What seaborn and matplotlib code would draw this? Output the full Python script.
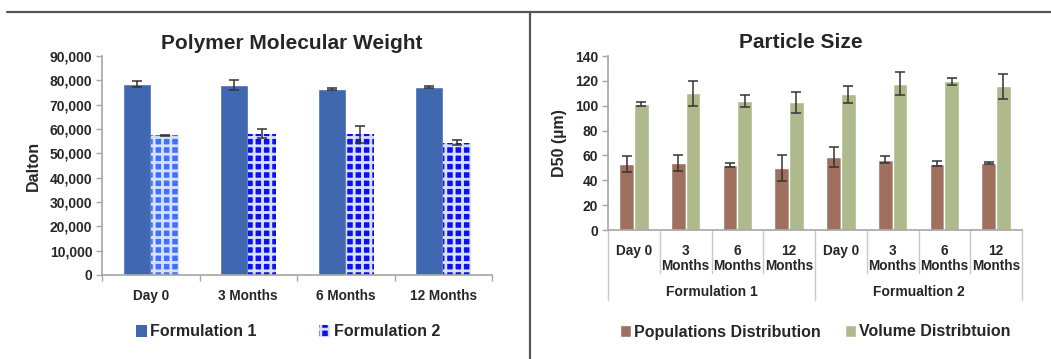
import matplotlib

matplotlib.use("Agg")
import matplotlib.pyplot as plt
import matplotlib.transforms as mtransforms
from matplotlib.lines import Line2D
from matplotlib.patches import Patch
from matplotlib.ticker import StrMethodFormatter
import pandas as pd
import seaborn as sns

# polymer molecular weight (left chart)
mw_times = ["Day 0", "3 Months", "6 Months", "12 Months"]
mw_series = ["Formulation 1", "Formulation 2"]
mw_f1 = [78500, 78200, 76300, 77300]
mw_f1_err = [1200, 2000, 400, 400]
mw_f2 = [57400, 58100, 57800, 54300]
mw_f2_err = [300, 1700, 3400, 1000]

# particle size (right chart)
ps_groups = ["Formulation 1", "Formualtion 2"]
ps_times = ["Day 0", "3\nMonths", "6\nMonths", "12\nMonths"]
ps_series = ["Populations Distribution", "Volume Distribtuion"]
pop_vals = [53, 54, 52, 50, 58.5, 56.5, 53.5, 54]
pop_err = [6.7, 6.4, 1.7, 10.3, 7.9, 2.7, 2.0, 0.5]
vol_vals = [101.4, 110, 103.5, 102.7, 109.2, 117.7, 119.6, 115.8]
vol_err = [1.5, 10.2, 4.8, 8.2, 6.7, 9.1, 3.1, 10.0]

F1_BLUE = "#3F68B0"
F2_LIGHT = "#3F70FF"
F2_DARK = "#0F0FF0"
POP_RED = "#A0705F"
VOL_GREEN = "#AEBA8C"
TEXT = "#262626"
SPINE = "#A6A6A6"

sns.set_theme(style="white")
plt.rcParams["font.family"] = ["Liberation Sans", "DejaVu Sans"]
plt.rcParams["font.weight"] = "bold"
plt.rcParams["hatch.linewidth"] = 2.0
plt.rcParams["hatch.color"] = "#D8E0FF"


def style_axis(ax):
    sns.despine(ax=ax)
    for side in ("left", "bottom"):
        ax.spines[side].set_color(SPINE)
        ax.spines[side].set_linewidth(1.2)
    ax.tick_params(axis="y", left=True, length=4, width=1, color=SPINE,
                   labelsize=10, labelcolor=TEXT, pad=3)
    for lab in ax.get_yticklabels():
        lab.set_fontweight("bold")


def add_errorbars(ax, errs):
    for container, err in zip(ax.containers, errs):
        xs = [b.get_x() + b.get_width() / 2 for b in container]
        ys = [b.get_height() for b in container]
        ax.errorbar(xs, ys, yerr=err, fmt="none", ecolor="#333333",
                    elinewidth=1.1, capsize=3.5, capthick=1.1, zorder=5)


fig = plt.figure(figsize=(10.51, 3.59), dpi=100)

# ---- left chart
mw_df = pd.DataFrame({
    "time": mw_times * 2,
    "series": [mw_series[0]] * 4 + [mw_series[1]] * 4,
    "value": mw_f1 + mw_f2,
})
ax1 = fig.add_axes([102 / 1051, 84 / 359, 390 / 1051, 219 / 359])
sns.barplot(data=mw_df, x="time", y="value", hue="series", order=mw_times,
            hue_order=mw_series, palette=[F1_BLUE, F2_DARK], width=0.57,
            errorbar=None, saturation=1, legend=False, ax=ax1)
for i, bar in enumerate(ax1.containers[1]):
    bar.set_facecolor(F2_LIGHT if i == 0 else F2_DARK)
    bar.set_hatch("++")
    bar.set_edgecolor("#D8E0FF")
    bar.set_linewidth(0)
add_errorbars(ax1, [mw_f1_err, mw_f2_err])
ax1.set_ylim(0, 90000)
ax1.set_yticks(range(0, 90001, 10000))
ax1.set_xlim(-0.5, 3.5)
ax1.yaxis.set_major_formatter(StrMethodFormatter("{x:,.0f}"))
ax1.set_xlabel("")
ax1.set_ylabel("Dalton", fontsize=11.5, fontweight="bold", color=TEXT, labelpad=6)
style_axis(ax1)
ax1.set_xticks([-0.5, 0.5, 1.5, 2.5, 3.5], minor=True)
ax1.tick_params(axis="x", which="major", length=0, labelsize=9.8,
                labelcolor=TEXT, pad=10)
ax1.tick_params(axis="x", which="minor", bottom=True, length=4, width=1,
                color=SPINE)
for lab in ax1.get_xticklabels():
    lab.set_fontweight("bold")
ax1.text(0.486, 1.059, "Polymer Molecular Weight", transform=ax1.transAxes,
         ha="center", va="center", fontsize=15, fontweight="bold", color=TEXT)

mw_handles = [
    Patch(facecolor=F1_BLUE, edgecolor="none"),
    Patch(facecolor=F2_DARK, hatch="++", edgecolor="#D8E0FF", linewidth=0),
]
fig.legend(mw_handles, mw_series, loc="center",
           bbox_to_anchor=(288 / 1051, 1 - 332 / 359), ncol=2, frameon=False,
           handlelength=0.7, handleheight=0.7, handletextpad=0.2,
           columnspacing=3.9, prop={"size": 11.5, "weight": "bold"},
           labelcolor=TEXT)

# ---- right chart
ps_keys = [f"{g}|{t}" for g in ps_groups for t in ps_times]
ps_df = pd.DataFrame({
    "key": ps_keys * 2,
    "series": [ps_series[0]] * 8 + [ps_series[1]] * 8,
    "value": pop_vals + vol_vals,
})
ax2 = fig.add_axes([608 / 1051, 129 / 359, 414 / 1051, 174 / 359])
sns.barplot(data=ps_df, x="key", y="value", hue="series", order=ps_keys,
            hue_order=ps_series, palette=[POP_RED, VOL_GREEN], width=0.57,
            errorbar=None, saturation=1, legend=False, ax=ax2)
add_errorbars(ax2, [pop_err, vol_err])
ax2.set_ylim(0, 140)
ax2.set_xlim(-0.5, len(ps_keys) - 0.5)
ax2.set_yticks(range(0, 141, 20))
ax2.set_xlabel("")
ax2.set_ylabel("D50 (µm)", fontsize=11.5, fontweight="bold", color=TEXT,
               labelpad=6)
style_axis(ax2)
ax2.set_xticks(range(len(ps_keys)))
ax2.set_xticklabels(ps_times * 2, linespacing=1.1)
ax2.tick_params(axis="x", length=0, labelsize=9.8, labelcolor=TEXT, pad=10)
for lab in ax2.get_xticklabels():
    lab.set_fontweight("bold")
    lab.set_verticalalignment("top")

trans = mtransforms.blended_transform_factory(ax2.transData, ax2.transAxes)
for i in range(len(ps_keys) + 1):
    edge = i % 4 == 0
    ax2.add_line(Line2D([i - 0.5, i - 0.5], [0, -0.402 if edge else -0.247],
                        transform=trans, color="#C8C8C8", linewidth=1.0,
                        clip_on=False))
for g, name in enumerate(ps_groups):
    ax2.text(g * 4 + 1.5, -0.355, name, transform=trans, ha="center",
             va="center", fontsize=10, fontweight="bold", color=TEXT)
ax2.text(0.465, 1.075, "Particle Size", transform=ax2.transAxes,
         ha="center", va="center", fontsize=15, fontweight="bold", color=TEXT)

ps_handles = [Patch(facecolor=POP_RED), Patch(facecolor=VOL_GREEN)]
fig.legend(ps_handles, ps_series, loc="center",
           bbox_to_anchor=(815 / 1051, 1 - 332 / 359), ncol=2, frameon=False,
           handlelength=0.7, handleheight=0.7, handletextpad=0.2,
           columnspacing=1.5, prop={"size": 11.5, "weight": "bold"},
           labelcolor=TEXT)

# panel frame lines
fig.add_artist(Line2D([7 / 1051, 1], [1 - 11.5 / 359] * 2,
                      transform=fig.transFigure, color="#555555", linewidth=1.6))
fig.add_artist(Line2D([530 / 1051] * 2, [0, 1 - 11.5 / 359],
                      transform=fig.transFigure, color="#555555", linewidth=1.6))

fig.savefig("out.png", dpi=100)
